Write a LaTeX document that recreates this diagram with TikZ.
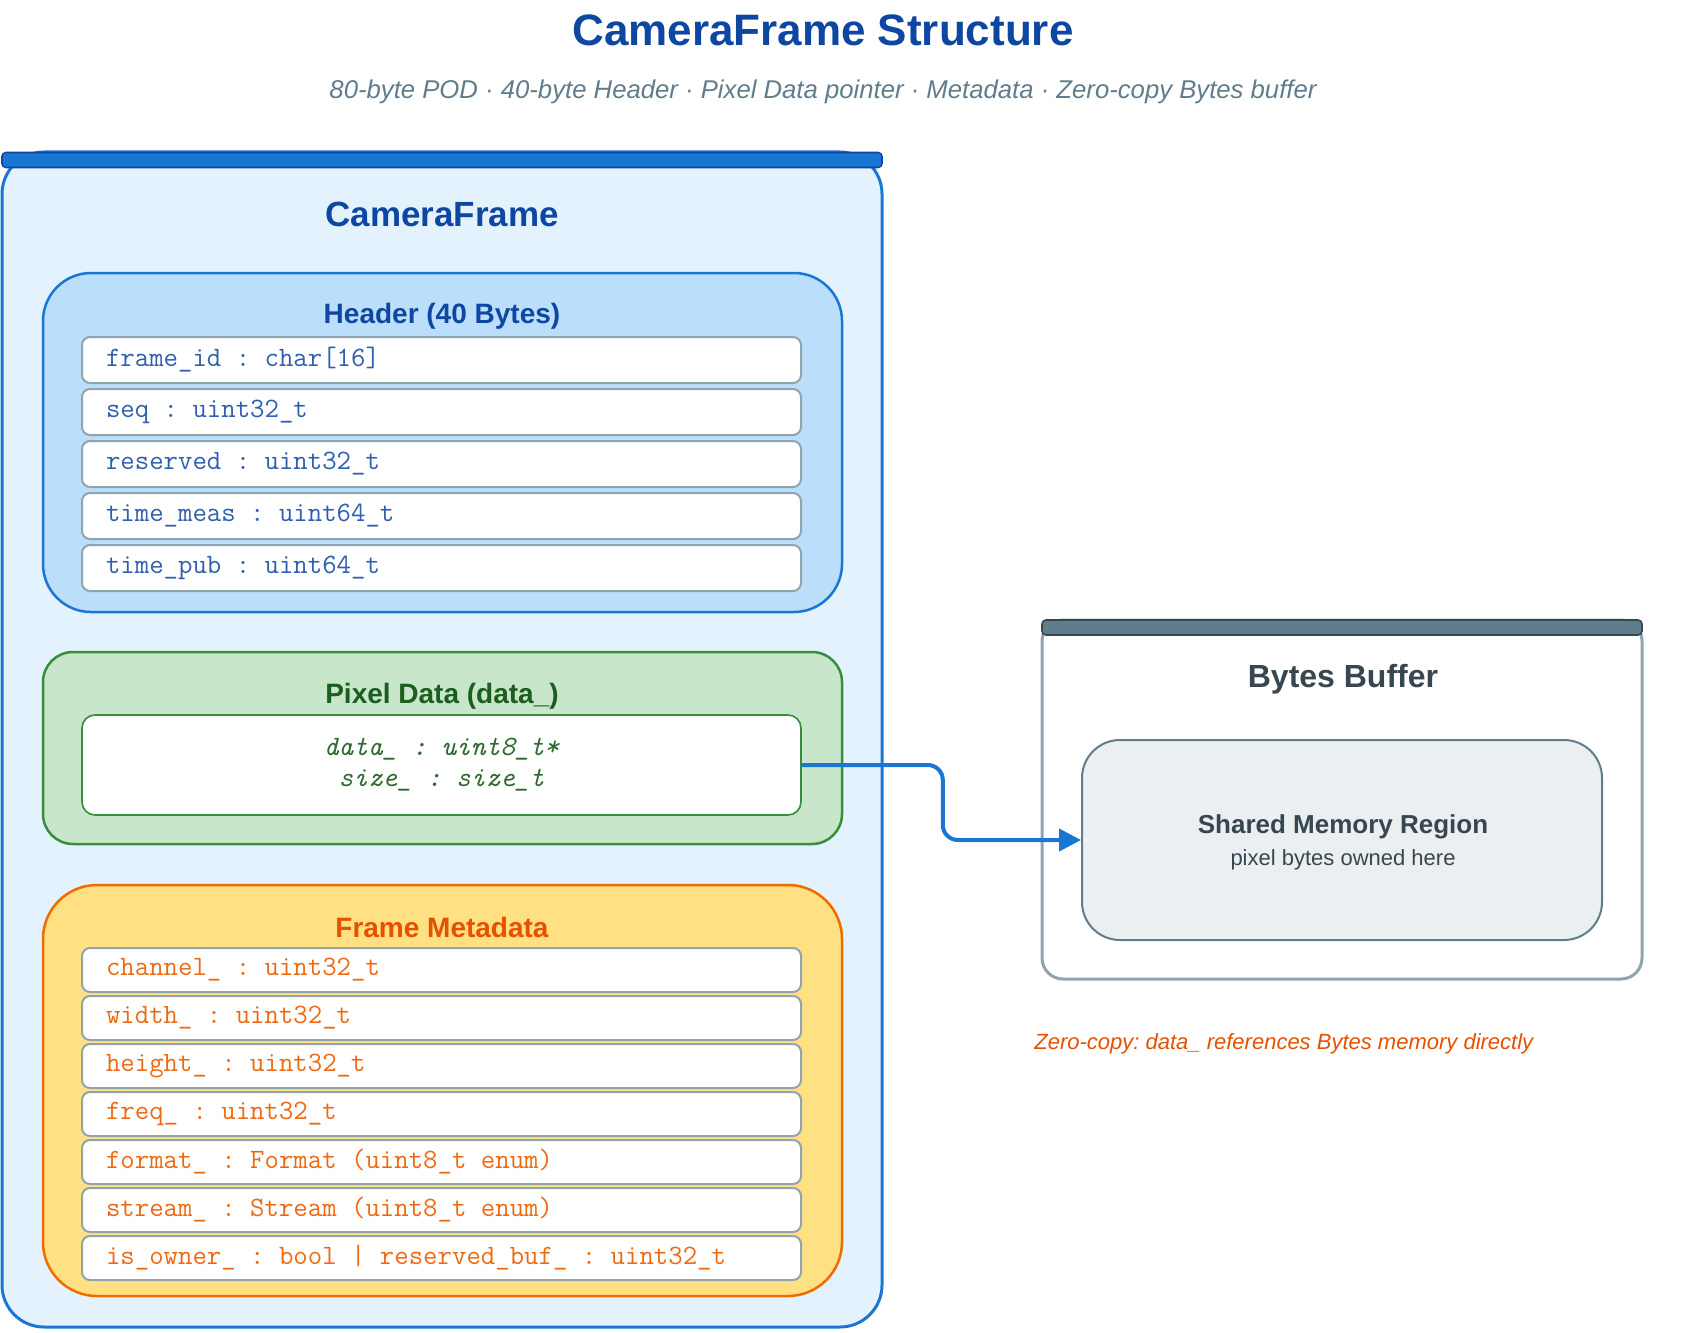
\documentclass[tikz,border=0pt]{standalone}
\usepackage{fontspec}
\setmainfont{Liberation Sans}
\usepackage{tikz}
\usetikzlibrary{arrows.meta,positioning}
\frenchspacing

\definecolor{titleblue}{HTML}{0D47A1}
\definecolor{subgray}{HTML}{607D8B}
\definecolor{cfblue}{HTML}{1976D2}
\definecolor{cffill}{HTML}{E3F2FD}
\definecolor{hdrfill}{HTML}{BBDEFB}
\definecolor{hdrtext}{HTML}{2F5FAE}
\definecolor{rowgray}{HTML}{90A4AE}
\definecolor{pixfill}{HTML}{C8E6C9}
\definecolor{pixline}{HTML}{388E3C}
\definecolor{pixtitle}{HTML}{1B5E20}
\definecolor{pixtext}{HTML}{2E6B30}
\definecolor{metafill}{HTML}{FFE082}
\definecolor{metaline}{HTML}{EF6C00}
\definecolor{metatitle}{HTML}{E65100}
\definecolor{metatext}{HTML}{EE6A12}
\definecolor{slate}{HTML}{37474F}
\definecolor{shmfill}{HTML}{ECEFF1}

\begin{document}
\begin{tikzpicture}[x=0.5pt, y=-0.5pt,
    group/.style={draw, line width=1.25pt, minimum width=399.5pt},
    field/.style={draw=rowgray, line width=1pt, fill=white, rounded corners=4pt,
        minimum width=359.5pt, text width=335.5pt, inner xsep=12pt, align=flush left,
        font=\ttfamily\fontsize{14}{16}\selectfont},
    hdrfield/.style={field, minimum height=23pt, text=hdrtext},
    metafield/.style={field, minimum height=22pt, text=metatext},
    grouptitle/.style={font=\bfseries\fontsize{14}{16}\selectfont},
    topbar/.style={draw, line width=0.8pt, rounded corners=2pt, minimum height=7.5pt, inner sep=0pt},
    link/.style={-{Triangle[length=11pt, width=11pt]}, line width=2pt, cfblue, rounded corners=7.5pt}
]
\useasboundingbox (0,0) rectangle (1684,1332);

\node[font=\bfseries\fontsize{22}{26}\selectfont, text=titleblue] (title) at (823,30) {CameraFrame Structure};
\node[font=\itshape\fontsize{12.85}{15}\selectfont, text=subgray] (subtitle) at (823,92) {80-byte POD · 40-byte Header · Pixel Data pointer · Metadata · Zero-copy Bytes buffer};

% CameraFrame container
\node[draw=cfblue, fill=cffill, line width=1.5pt, rounded corners=21pt, minimum width=440pt, minimum height=587.5pt] (frame) at (442,739.5) {};
\node[topbar, draw=titleblue, fill=cfblue, minimum width=440pt] (framebar) at (442,160) {};
\node[font=\bfseries\fontsize{17.5}{20}\selectfont, text=titleblue] (framelbl) at (442,214) {CameraFrame};

% Header
\node[group, draw=cfblue, fill=hdrfill, rounded corners=24pt, minimum height=169.5pt] (header) at (442.5,442.5) {};
\node[grouptitle, text=titleblue] (headerlbl) at (442,316) {Header (40 Bytes)};
\node[hdrfield] (frameid) at (441.5,360) {frame\_id : char[16]};
\node[hdrfield] (seq) at (441.5,412) {seq : uint32\_t};
\node[hdrfield] (reserved) at (441.5,464) {reserved : uint32\_t};
\node[hdrfield] (tmeas) at (441.5,516) {time\_meas : uint64\_t};
\node[hdrfield] (tpub) at (441.5,568) {time\_pub : uint64\_t};

% Pixel data
\node[group, draw=pixline, fill=pixfill, rounded corners=15pt, minimum height=96pt] (pixel) at (442.5,748) {};
\node[grouptitle, text=pixtitle] (pixellbl) at (442,696) {Pixel Data (data\_)};
\node[draw=pixline, line width=0.8pt, fill=white, rounded corners=6.5pt, minimum width=359.5pt, minimum height=50pt,
      align=center, text=pixtext, font=\ttfamily\itshape\fontsize{14}{15.5}\selectfont] (pixptr) at (441.5,765)
      {data\_ : uint8\_t*\\size\_ : size\_t};

% Metadata
\node[group, draw=metaline, fill=metafill, rounded corners=27pt, minimum height=205.5pt] (meta) at (442.5,1090.5) {};
\node[grouptitle, text=metatitle] (metalbl) at (442,927) {Frame Metadata};
\node[metafield] (channel) at (441.5,970) {channel\_ : uint32\_t};
\node[metafield] (width) at (441.5,1018) {width\_ : uint32\_t};
\node[metafield] (height) at (441.5,1066) {height\_ : uint32\_t};
\node[metafield] (freq) at (441.5,1114) {freq\_ : uint32\_t};
\node[metafield] (format) at (441.5,1162) {format\_ : Format (uint8\_t enum)};
\node[metafield] (stream) at (441.5,1210) {stream\_ : Stream (uint8\_t enum)};
\node[metafield] (owner) at (441.5,1258) {is\_owner\_ : bool | reserved\_buf\_ : uint32\_t};

% Bytes buffer
\node[draw=rowgray, fill=white, line width=1.5pt, rounded corners=10.5pt, minimum width=300pt, minimum height=179.5pt] (bytes) at (1342,799.5) {};
\node[topbar, draw=slate, fill=subgray, minimum width=300pt] (bytesbar) at (1342,627.5) {};
\node[font=\bfseries\fontsize{16}{19}\selectfont, text=slate] (byteslbl) at (1343,679) {Bytes Buffer};
\node[draw=subgray, fill=shmfill, line width=1pt, rounded corners=19pt, minimum width=260pt, minimum height=100pt] (shm) at (1342,840) {};
\node[font=\bfseries\fontsize{13}{15}\selectfont, text=slate] (shmlbl) at (1343,827) {Shared Memory Region};
\node[font=\fontsize{11}{13}\selectfont, text=slate] (shmsub) at (1343,860) {pixel bytes owned here};

\node[anchor=west, inner sep=0pt, font=\itshape\fontsize{11}{13}\selectfont, text=metatitle] (note) at (1034,1044) {Zero-copy: data\_ references Bytes memory directly};

\draw[link] (pixptr.east) -- ++(141,0) |- (shm.west);
\end{tikzpicture}
\end{document}
